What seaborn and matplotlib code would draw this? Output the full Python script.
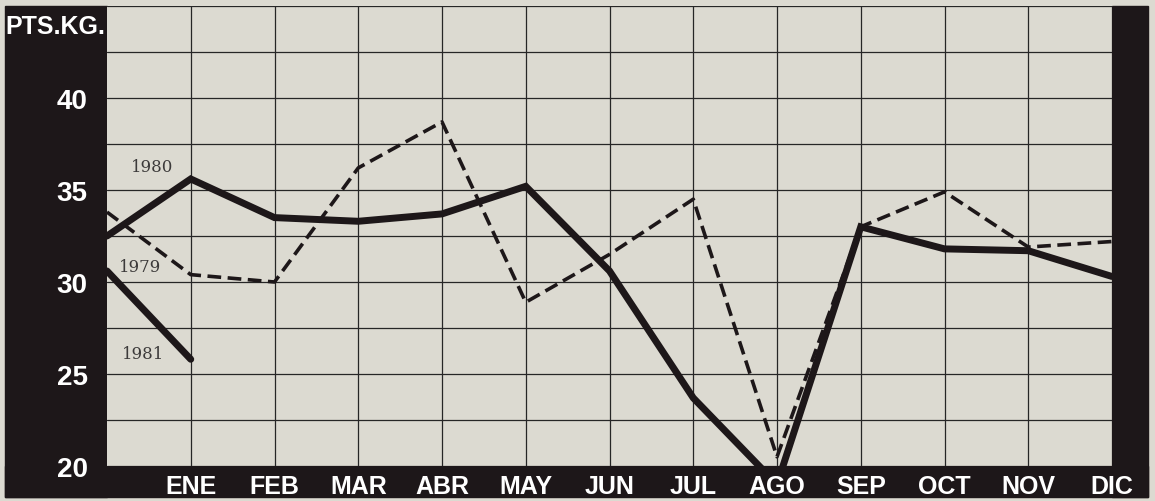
import numpy as np
import pandas as pd
import matplotlib
matplotlib.use("Agg")
import matplotlib.pyplot as plt
import seaborn as sns
from matplotlib.patches import Rectangle

# posición 0 = diciembre del año anterior (borde izquierdo)
meses = ["ENE", "FEB", "MAR", "ABR", "MAY", "JUN", "JUL", "AGO", "SEP", "OCT", "NOV", "DIC"]
pos = list(range(13))

precio_1980 = [32.5, 35.6, 33.5, 33.3, 33.7, 35.2, 30.6, 23.7, 19.0, 33.0, 31.8, 31.7, 30.3]
precio_1979 = [33.8, 30.4, 30.0, 36.2, 38.7, 28.9, 31.5, 34.5, 20.5, 33.0, 34.9, 31.9, 32.2]
precio_1981 = [30.6, 25.8]

ticks_y = [20, 25, 30, 35, 40]

PAPEL = "#dcdad1"
NEGRO = "#1d1719"

sns.set_theme(style="white")
plt.rcParams["font.family"] = ["Liberation Sans", "DejaVu Sans"]

fig = plt.figure(figsize=(11.55, 5.02), dpi=100, facecolor=PAPEL)
W, H = 1155, 502

def caja(x0, y0, x1, y1):
    fig.patches.append(Rectangle((x0 / W, 1 - y1 / H), (x1 - x0) / W, (y1 - y0) / H,
                                 transform=fig.transFigure, color=NEGRO, zorder=-10))

caja(5, 7, 107, 498)      # banda izquierda
caja(5, 467, 1148, 498)   # banda inferior
caja(1112, 7, 1148, 498)  # banda derecha

ax = fig.add_axes([107 / W, 1 - 467 / H, (1112 - 107) / W, (467 - 7) / H])
ax.set_facecolor(PAPEL)

df79 = pd.DataFrame({"mes": pos, "pts": precio_1979})
df80 = pd.DataFrame({"mes": pos, "pts": precio_1980})
df81 = pd.DataFrame({"mes": pos[:len(precio_1981)], "pts": precio_1981})

sns.lineplot(data=df79, x="mes", y="pts", ax=ax, color=NEGRO, lw=2.6, zorder=3)
ax.lines[-1].set_dashes([3.8, 1.8])
sns.lineplot(data=df80, x="mes", y="pts", ax=ax, color=NEGRO, lw=5, zorder=4)
sns.lineplot(data=df81, x="mes", y="pts", ax=ax, color=NEGRO, lw=5, zorder=4)
for ln in ax.lines:
    ln.set_solid_joinstyle("miter")

ax.set_xlim(0, 12)
ax.set_ylim(20, 45)
ax.set_xticks(range(1, 13))
ax.set_xticklabels(meses)
ax.set_yticks(ticks_y)
ax.set_yticks(np.arange(20, 45.1, 2.5), minor=True)
ax.set_xlabel("")
ax.set_ylabel("")

ax.grid(True, which="both", color="#262626", lw=0.9)
ax.set_axisbelow(True)
for s in ax.spines.values():
    s.set_visible(False)
ax.tick_params(axis="both", which="both", length=0)
ax.tick_params(axis="y", pad=14, labelsize=20, labelcolor="white")
ax.tick_params(axis="x", pad=6, labelsize=18, labelcolor="white")
for t in ax.get_xticklabels() + ax.get_yticklabels():
    t.set_fontweight("bold")

fig.text(55 / W, 1 - 27 / H, "PTS.KG.", color="white", fontsize=18, fontweight="bold",
         ha="center", va="center")

for txt, xx, yy in [("1980", 0.54, 36.3), ("1979", 0.39, 30.85), ("1981", 0.43, 26.1)]:
    ax.text(xx, yy, txt, family=["DejaVu Serif"], fontsize=12, color="#3c3a3a",
            ha="center", va="center", zorder=5)

fig.savefig("out.png", dpi=100, facecolor=PAPEL)
